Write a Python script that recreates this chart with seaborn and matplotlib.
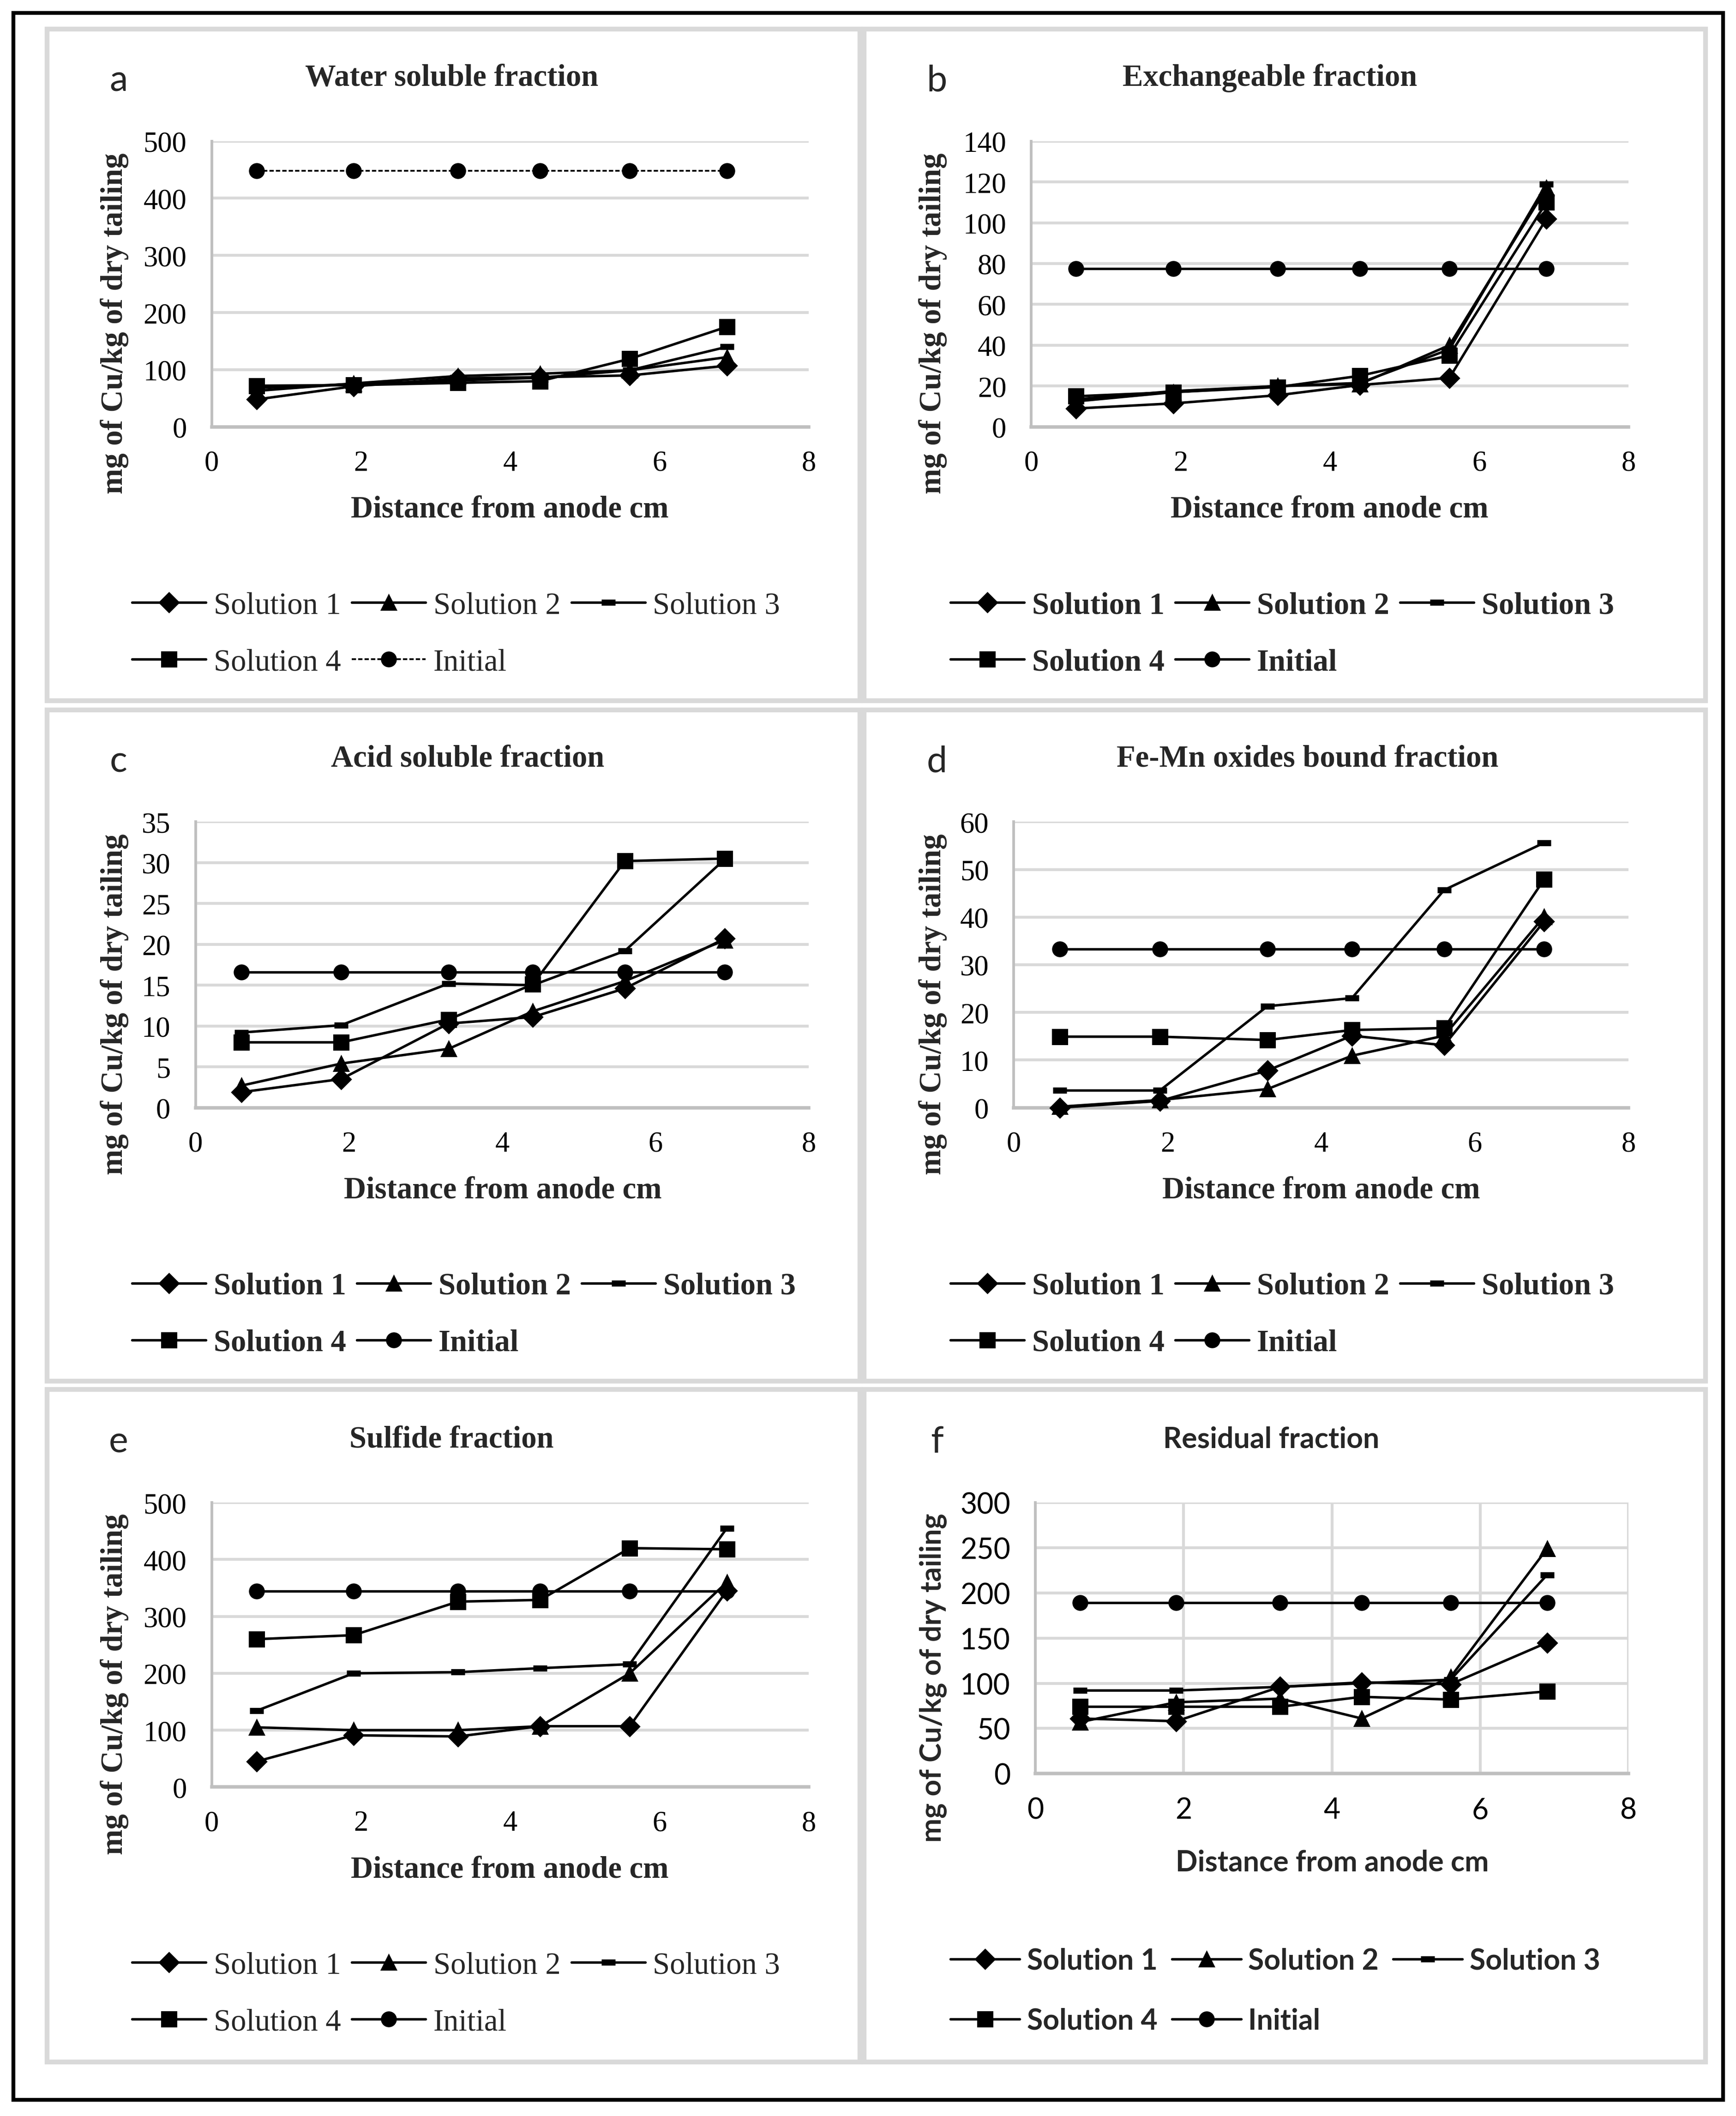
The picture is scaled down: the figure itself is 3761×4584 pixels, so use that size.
import seaborn as sns
import matplotlib.pyplot as plt
from matplotlib.patches import Rectangle

# distance from anode (cm)
dist = [0.6, 1.9, 3.3, 4.4, 5.6, 6.9]
names = ["Solution 1", "Solution 2", "Solution 3", "Solution 4", "Initial"]

# a - water soluble fraction
water_s1 = [48, 71, 85, 87, 90, 107]
water_s2 = [63, 76, 89, 93, 99, 122]
water_s3 = [68, 75, 81, 86, 99, 140]
water_s4 = [72, 73, 77, 80, 119, 175]
water_init = [448, 448, 448, 448, 448, 448]

# b - exchangeable fraction
exch_s1 = [9, 11.5, 15.5, 20.5, 24, 102]
exch_s2 = [12.5, 17, 20, 21, 40, 117]
exch_s3 = [13.5, 17.5, 20, 21.5, 38, 119]
exch_s4 = [15, 17, 19.5, 25, 35, 110]
exch_init = [77.5, 77.5, 77.5, 77.5, 77.5, 77.5]

# c - acid soluble fraction
acid_s1 = [1.9, 3.5, 10.3, 11.1, 14.6, 20.7]
acid_s2 = [2.7, 5.4, 7.2, 11.8, 15.5, 20.5]
acid_s3 = [9.2, 10.1, 15.2, 15.0, 19.2, 30.4]
acid_s4 = [8.0, 8.0, 10.8, 15.1, 30.2, 30.5]
acid_init = [16.6, 16.6, 16.6, 16.6, 16.6, 16.6]

# d - Fe-Mn oxides bound fraction
femn_s1 = [0, 1.4, 7.8, 15.1, 13.1, 39.1]
femn_s2 = [0.2, 1.6, 3.9, 10.9, 15.1, 40.1]
femn_s3 = [3.6, 3.6, 21.3, 23.0, 45.7, 55.6]
femn_s4 = [14.9, 14.9, 14.2, 16.3, 16.7, 47.9]
femn_init = [33.3, 33.3, 33.3, 33.3, 33.3, 33.3]

# e - sulfide fraction
sulf_s1 = [45, 91, 89, 107, 107, 345]
sulf_s2 = [105, 100, 100, 107, 200, 360]
sulf_s3 = [134, 200, 202, 209, 216, 455]
sulf_s4 = [260, 267, 326, 329, 420, 418]
sulf_init = [344, 344, 344, 344, 344, 344]

# f - residual fraction
resid_s1 = [61, 58, 96, 101, 99, 145]
resid_s2 = [57, 79, 83, 61, 107, 249]
resid_s3 = [92, 92, 96, 100, 104, 220]
resid_s4 = [74, 74, 74, 85, 82, 91]
resid_init = [189, 189, 189, 189, 189, 189]

SERIF = "Liberation Serif"
SANS = "Lato"

sns.set_theme(style="white")
plt.rcParams["font.family"] = [SERIF, "DejaVu Sans"]

fig = plt.figure(figsize=(12.54, 15.2833), dpi=300)

# layout measured on a 1288 x 1570 view of the reference
W, H = 1288.0, 1570.0
def fx(px):
    return px / W
def fy(py):
    return 1 - py / H

# marker style per series
mk = {
    "Solution 1": dict(marker="D", markersize=7),
    "Solution 2": dict(marker="^", markersize=7.5),
    "Solution 3": dict(marker="_", markersize=7, markeredgewidth=3.2),
    "Solution 4": dict(marker="s", markersize=7.5),
    "Initial": dict(marker="o", markersize=7.5),
}

panels = [
    dict(letter="a", title="Water soluble fraction",
         data=[water_s1, water_s2, water_s3, water_s4, water_init],
         ymax=500, ystep=100, rect=(157, 105, 600, 317), col=0, row=0,
         font=SERIF, legbold=False, dashed_init=True, xgrid=False,
         tx=335, lx=378),
    dict(letter="b", title="Exchangeable fraction",
         data=[exch_s1, exch_s2, exch_s3, exch_s4, exch_init],
         ymax=140, ystep=20, rect=(765, 105, 1208, 317), col=1, row=0,
         font=SERIF, legbold=True, dashed_init=False, xgrid=False,
         tx=942, lx=986),
    dict(letter="c", title="Acid soluble fraction",
         data=[acid_s1, acid_s2, acid_s3, acid_s4, acid_init],
         ymax=35, ystep=5, rect=(145, 610, 600, 822), col=0, row=1,
         font=SERIF, legbold=True, dashed_init=False, xgrid=False,
         tx=347, lx=373),
    dict(letter="d", title="Fe-Mn oxides bound fraction",
         data=[femn_s1, femn_s2, femn_s3, femn_s4, femn_init],
         ymax=60, ystep=10, rect=(752, 610, 1208, 822), col=1, row=1,
         font=SERIF, legbold=True, dashed_init=False, xgrid=False,
         tx=970, lx=980),
    dict(letter="e", title="Sulfide fraction",
         data=[sulf_s1, sulf_s2, sulf_s3, sulf_s4, sulf_init],
         ymax=500, ystep=100, rect=(157, 1115, 600, 1326), col=0, row=2,
         font=SERIF, legbold=False, dashed_init=False, xgrid=False,
         tx=335, lx=378),
    dict(letter="f", title="Residual fraction",
         data=[resid_s1, resid_s2, resid_s3, resid_s4, resid_init],
         ymax=300, ystep=50, rect=(768, 1115, 1208, 1316), col=1, row=2,
         font=SANS, legbold=True, dashed_init=False, xgrid=True,
         tx=943, lx=988),
]

# panel frames (display px)
col_x = [(35, 638), (641, 1265)]
row_y = [(22, 520), (527, 1025), (1031, 1530)]
row_top = [0, 505, 1010]

fig.add_artist(Rectangle((fx(10), fy(1558)), fx(1278) - fx(10), fy(10) - fy(1558),
                         transform=fig.transFigure, fill=False, edgecolor="black", lw=2))

for p in panels:
    x0c, x1c = col_x[p["col"]]
    y0r, y1r = row_y[p["row"]]
    fig.add_artist(Rectangle((fx(x0c), fy(y1r)), fx(x1c) - fx(x0c), fy(y0r) - fy(y1r),
                             transform=fig.transFigure, fill=False,
                             edgecolor="#d9d9d9", lw=2.5))

    l, t, r, b = p["rect"]
    ax = fig.add_axes([fx(l), fy(b), fx(r) - fx(l), fy(t) - fy(b)])
    ax.set_facecolor("white")

    for name, vals in zip(names, p["data"]):
        style = dict(mk[name])
        ls = "-"
        lw = 1.3
        if name == "Initial" and p["dashed_init"]:
            ls = (0, (2.5, 1.2))
            lw = 0.9
        sns.lineplot(x=dist, y=vals, ax=ax, color="black", linewidth=lw,
                     linestyle=ls, markeredgecolor="black", label=name,
                     zorder=3, **style)

    handles, labels = ax.get_legend_handles_labels()
    if ax.get_legend() is not None:
        ax.get_legend().remove()

    ax.set_xlim(0, 8)
    ax.set_ylim(0, p["ymax"])
    ax.set_xticks([0, 2, 4, 6, 8])
    ax.set_yticks(list(range(0, p["ymax"] + 1, p["ystep"])))
    ax.set_xlabel("")
    ax.set_ylabel("")
    ax.grid(axis="y", color="#d9d9d9", lw=1.5)
    if p["xgrid"]:
        ax.grid(axis="x", color="#d9d9d9", lw=1.5)
    ax.set_axisbelow(True)
    for s in ["top", "right"]:
        ax.spines[s].set_visible(False)
    ax.spines["left"].set_color("#bfbfbf")
    ax.spines["left"].set_linewidth(1.4)
    ax.spines["bottom"].set_color("#bfbfbf")
    ax.spines["bottom"].set_linewidth(1.8)
    ax.tick_params(length=0, labelsize=15, colors="black")
    ax.tick_params(axis="x", pad=12)
    ax.tick_params(axis="y", pad=13)
    for lab in ax.get_xticklabels() + ax.get_yticklabels():
        lab.set_fontfamily(p["font"])
    for ln in ax.lines:
        ln.set_clip_on(False)

    # texts in figure coords
    dy = row_top[p["row"]]
    cx = 0 if p["col"] == 0 else 607
    serif = p["font"] == SERIF
    fsz = 16 if serif else 15
    fig.text(fx(88 + cx), fy(60 + dy), p["letter"], fontfamily=SANS,
             fontsize=19, ha="center", va="center")
    fig.text(fx(p["tx"]), fy(58 + dy), p["title"], fontfamily=p["font"],
             fontweight="bold", fontsize=fsz, ha="center", va="center")
    fig.text(fx(p["lx"]), fy(b + (61 if serif else 66)), "Distance from anode cm",
             fontfamily=p["font"], fontweight="bold", fontsize=fsz,
             ha="center", va="center")
    fig.text(fx(85 + cx), fy((t + b) / 2 + 29), "mg of Cu/kg of dry tailing",
             fontfamily=p["font"], fontweight="bold", fontsize=fsz,
             rotation=90, ha="center", va="center")

    # legend, row-major order via column filling
    order = [0, 3, 1, 4, 2]
    fig.legend([handles[i] for i in order], [labels[i] for i in order],
               loc="upper left",
               bbox_to_anchor=(fx(98 + cx), fy(b + (122 if serif else 129))),
               ncol=3, frameon=False, borderaxespad=0, borderpad=0,
               handlelength=2.4, handletextpad=0.25,
               columnspacing=0.35 if serif else 0.5,
               labelspacing=0.93 if serif else 1.15,
               prop=dict(family=p["font"], size=fsz,
                         weight="bold" if p["legbold"] else "normal"))

fig.savefig("out.png", dpi=300, facecolor="white")
